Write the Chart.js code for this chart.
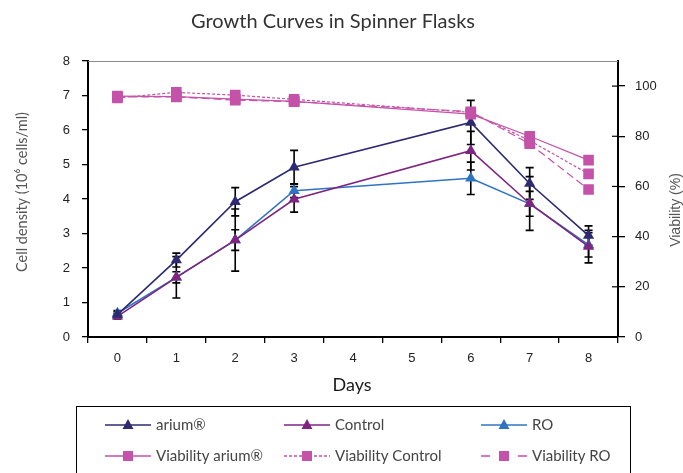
<!DOCTYPE html>
<html>
<head>
<meta charset="utf-8">
<script src="https://cdn.jsdelivr.net/npm/chart.js@4.4.1/dist/chart.umd.min.js"></script>
<style>
html,body{margin:0;padding:0;background:#fff;}
canvas{display:block;}
</style>
</head>
<body>
<canvas id="c" width="683" height="473"></canvas>
<script>
// ---- data ----
const days = ['0','1','2','3','4','5','6','7','8'];
const ariumDensity   = [0.65, 2.23, 3.92, 4.92, null, null, 6.22, 4.45, 2.94];
const ariumErr       = [0.08, 0.20, 0.41, 0.49, null, null, 0.64, 0.46, 0.28];
const controlDensity = [0.60, 1.73, 2.81, 3.99, null, null, 5.40, 3.87, 2.62];
const controlErr     = [0.08, 0.60, 0.90, 0.37, null, null, 0.56, 0.78, 0.47];
const roDensity      = [0.69, 1.73, 2.81, 4.24, null, null, 4.60, 3.86, 2.67];
const roErr          = [0.08, 0.16, 0.30, 0.20, null, null, 0.47, 0.36, 0.35];
const viabArium      = [96.0, 95.8, 94.8, 93.9, null, null, 88.8, 80.0, 70.5];
const viabControl    = [95.3, 97.5, 96.4, 94.7, null, null, 89.5, 78.3, 65.0];
const viabRO         = [95.7, 95.7, 94.4, 93.8, null, null, 89.8, 77.0, 58.8];
const densityTicks   = [0,1,2,3,4,5,6,7,8];
const viabilityTicks = [0,20,40,60,80,100];

const C = {arium:'#2D2A72', control:'#7E2582', ro:'#2F74C0', viab:'#C452A8'};

const errorBars = {
  id:'errorBars',
  beforeDatasetsDraw(chart){
    const ctx = chart.ctx;
    ctx.save();
    ctx.strokeStyle = '#000';
    ctx.lineWidth = 1.6;
    chart.data.datasets.forEach((ds,i)=>{
      if(!ds.errors) return;
      const meta = chart.getDatasetMeta(i);
      const ys = chart.scales[ds.yAxisID];
      meta.data.forEach((pt,j)=>{
        const v = ds.data[j], e = ds.errors[j];
        if(v==null || e==null) return;
        const x = pt.x, yt = ys.getPixelForValue(v+e), yb = ys.getPixelForValue(v-e);
        ctx.beginPath();
        ctx.moveTo(x,yt); ctx.lineTo(x,yb);
        ctx.moveTo(x-4,yt); ctx.lineTo(x+4,yt);
        ctx.moveTo(x-4,yb); ctx.lineTo(x+4,yb);
        ctx.stroke();
      });
    });
    ctx.restore();
  }
};

const decor = {
  id:'decor',
  afterDraw(chart){
    const ctx = chart.ctx, a = chart.chartArea;
    ctx.save();
    // top frame line
    ctx.strokeStyle = '#8a8a8a'; ctx.lineWidth = 1.2;
    ctx.beginPath(); ctx.moveTo(a.left, a.top+0.5); ctx.lineTo(a.right, a.top+0.5); ctx.stroke();
    // right axis ticks crossing inward
    const y2 = chart.scales.y2;
    ctx.strokeStyle = '#000'; ctx.lineWidth = 1.2;
    y2.ticks.forEach(t=>{
      const y = y2.getPixelForValue(t.value);
      ctx.beginPath(); ctx.moveTo(a.right-6, y); ctx.lineTo(a.right, y); ctx.stroke();
    });
    // title
    ctx.fillStyle = '#333';
    ctx.font = '20px Lato';
    ctx.textAlign = 'center'; ctx.textBaseline = 'middle';
    ctx.fillText('Growth Curves in Spinner Flasks', 333, 22);
    // x title
    ctx.fillStyle = '#1a1a1a';
    ctx.font = '18px Lato';
    ctx.fillText('Days', 352, 385);
    // y titles
    ctx.fillStyle = '#555';
    ctx.font = '14.5px Lato';
    ctx.save(); ctx.translate(22, 192); ctx.rotate(-Math.PI/2);
    ctx.fillText('Cell density (10\u2076 cells/ml)', 0, 0); ctx.restore();
    ctx.font = '14px "Liberation Sans"';
    ctx.save(); ctx.translate(676, 210); ctx.rotate(-Math.PI/2);
    ctx.fillText('Viability (%)', 0, 0); ctx.restore();
    // legend box
    ctx.strokeStyle = '#000'; ctx.lineWidth = 1;
    ctx.strokeRect(76.5, 406.5, 554, 80);
    const cols = [105, 284, 481], rows = [425, 456], L = 46;
    const items = [
      {t:'arium\u00AE', c:C.arium, d:[], s:'tri', col:0,row:0},
      {t:'Control', c:C.control, d:[], s:'tri', col:1,row:0},
      {t:'RO', c:C.ro, d:[], s:'tri', col:2,row:0},
      {t:'Viability arium\u00AE', c:C.viab, d:[], s:'sq', col:0,row:1},
      {t:'Viability Control', c:C.viab, d:[3,2], s:'sq', col:1,row:1},
      {t:'Viability RO', c:C.viab, d:[9,28], s:'sq', col:2,row:1},
    ];
    items.forEach(it=>{
      const x0 = cols[it.col], y = rows[it.row];
      ctx.strokeStyle = it.c; ctx.lineWidth = 1.5; ctx.setLineDash(it.d);
      ctx.beginPath(); ctx.moveTo(x0, y); ctx.lineTo(x0+L, y); ctx.stroke();
      ctx.setLineDash([]);
      ctx.fillStyle = it.c;
      const cx = x0 + L/2;
      if(it.s==='tri'){
        ctx.beginPath(); ctx.moveTo(cx, y-6); ctx.lineTo(cx+5.5, y+4); ctx.lineTo(cx-5.5, y+4); ctx.closePath(); ctx.fill();
      } else {
        ctx.fillRect(cx-5, y-5, 10, 10);
      }
      ctx.fillStyle = '#444'; ctx.font = '15px Lato';
      ctx.textAlign = 'left'; ctx.textBaseline = 'middle';
      ctx.fillText(it.t, x0+L+5, y);
    });
    ctx.restore();
  }
};

const lineDs = (label, data, err, color) => ({
  label, data, errors: err, yAxisID:'y',
  borderColor: color, backgroundColor: color, borderWidth: 1.6,
  pointStyle:'triangle', pointRadius: 6.5, pointBorderWidth: 0,
  spanGaps:true, tension:0, order: 1
});
const viabDs = (label, data, dash) => ({
  label, data, yAxisID:'y2',
  borderColor: C.viab, backgroundColor: C.viab, borderWidth: 1.2, borderDash: dash,
  pointStyle:'rect', pointRadius: 7.5, pointBorderWidth: 0,
  spanGaps:true, tension:0, order: 0
});

new Chart(document.getElementById('c'), {
  type:'line',
  data:{
    labels: days,
    datasets:[
      lineDs('arium\u00AE', ariumDensity, ariumErr, C.arium),
      lineDs('Control', controlDensity, controlErr, C.control),
      lineDs('RO', roDensity, roErr, C.ro),
      viabDs('Viability arium\u00AE', viabArium, []),
      viabDs('Viability Control', viabControl, [3,2]),
      viabDs('Viability RO', viabRO, [8,4]),
    ]
  },
  options:{
    responsive:false, animation:false,
    layout:{padding:{top:61, left:0, right:0, bottom:0}},
    plugins:{legend:{display:false}, tooltip:{enabled:false}, title:{display:false}},
    scales:{
      x:{
        type:'category', offset:true,
        grid:{offset:true, drawOnChartArea:false, drawTicks:true, tickLength:6, color:'#000', lineWidth:1.3},
        border:{display:true, color:'#000', width:2},
        ticks:{font:{family:'Liberation Sans', size:13}, color:'#222', padding:8},
        afterFit(s){ s.height = 136; }
      },
      y:{
        position:'left', min:0, max:8,
        afterBuildTicks(s){ s.ticks = densityTicks.map(v=>({value:v})); },
        grid:{drawOnChartArea:false, drawTicks:true, tickLength:6, color:'#000', lineWidth:1.3},
        border:{display:true, color:'#000', width:2},
        ticks:{font:{family:'Liberation Sans', size:13}, color:'#222', padding:12},
        afterFit(s){ s.width = 88; }
      },
      y2:{
        position:'right', min:0, max:110,
        afterBuildTicks(s){ s.ticks = viabilityTicks.map(v=>({value:v})); },
        grid:{drawOnChartArea:false, drawTicks:true, tickLength:7, color:'#000', lineWidth:1.3},
        border:{display:true, color:'#000', width:2},
        ticks:{font:{family:'Liberation Sans', size:13}, color:'#222', padding:10},
        afterFit(s){ s.width = 65; }
      }
    }
  },
  plugins:[errorBars, decor]
});
</script>
</body>
</html>
